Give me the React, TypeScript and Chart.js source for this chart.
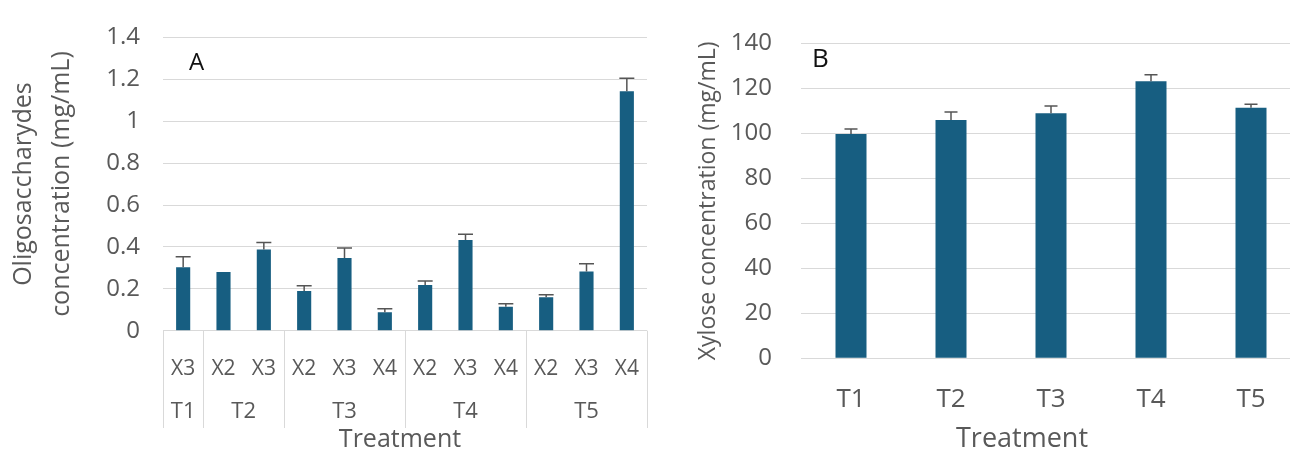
import React, { useEffect, useRef } from 'react';
import { Chart, registerables } from 'chart.js';

Chart.register(...registerables);

// ---- Data: panel A (oligosaccharides) ----
const subCategoriesA = ['X3', 'X2', 'X3', 'X2', 'X3', 'X4', 'X2', 'X3', 'X4', 'X2', 'X3', 'X4'];
const groupLabelsA = ['T1', 'T2', 'T3', 'T4', 'T5'];
const groupSizesA = [1, 2, 3, 3, 3];
const oligoValues = [0.303, 0.28, 0.387, 0.19, 0.347, 0.088, 0.218, 0.433, 0.114, 0.16, 0.283, 1.143];
const oligoErrors = [0.05, 0, 0.034, 0.024, 0.048, 0.017, 0.019, 0.027, 0.015, 0.012, 0.037, 0.062];
const yTicksA = [0, 0.2, 0.4, 0.6, 0.8, 1, 1.2, 1.4];

// ---- Data: panel B (xylose) ----
const categoriesB = ['T1', 'T2', 'T3', 'T4', 'T5'];
const xyloseValues = [99.7, 106, 109, 123.2, 111.4];
const xyloseErrors = [2.2, 3.5, 3.2, 2.9, 1.5];
const yTicksB = [0, 20, 40, 60, 80, 100, 120, 140];

const BAR = '#175E81';
const TEXT = '#595959';
const GRID = '#d9d9d9';
const ERR = '#555555';
const FONT = "'Open Sans', 'Liberation Sans', sans-serif";

Chart.defaults.font.family = FONT;

function errorBarPlugin(errors: number[], capWidth: number) {
  return {
    id: 'errorBars',
    afterDatasetsDraw(chart: any) {
      const meta = chart.getDatasetMeta(0);
      const yScale = chart.scales.y;
      const data = chart.data.datasets[0].data as number[];
      const ctx = chart.ctx;
      ctx.save();
      ctx.strokeStyle = ERR;
      ctx.lineWidth = 1.5;
      meta.data.forEach((bar: any, i: number) => {
        const e = errors[i];
        if (!e) return;
        const top = yScale.getPixelForValue(data[i] + e);
        const x = bar.x;
        ctx.beginPath();
        ctx.moveTo(x, bar.y);
        ctx.lineTo(x, top);
        ctx.moveTo(x - capWidth / 2, top);
        ctx.lineTo(x + capWidth / 2, top);
        ctx.stroke();
      });
      ctx.restore();
    },
  };
}

function textPlugin(id: string, items: { text: string; x: number; y: number; size: number; color: string }[]) {
  return {
    id,
    afterDraw(chart: any) {
      const ctx = chart.ctx;
      ctx.save();
      ctx.textBaseline = 'alphabetic';
      items.forEach((it) => {
        ctx.font = `${it.size}px ${FONT}`;
        ctx.fillStyle = it.color;
        ctx.textAlign = it.text.length > 1 ? 'center' : 'left';
        ctx.fillText(it.text, it.x, it.y);
      });
      ctx.restore();
    },
  };
}

const groupPlugin = {
  id: 'groupLabels',
  afterDraw(chart: any) {
    const ctx = chart.ctx;
    const x = chart.scales.x;
    const area = chart.chartArea;
    const total = subCategoriesA.length;
    ctx.save();
    ctx.font = `22px ${FONT}`;
    ctx.fillStyle = TEXT;
    ctx.textAlign = 'center';
    ctx.textBaseline = 'alphabetic';
    const bounds: number[] = [area.left];
    let start = 0;
    groupSizesA.forEach((n, g) => {
      const first = x.getPixelForTick(start);
      const last = x.getPixelForTick(start + n - 1);
      ctx.fillText(groupLabelsA[g], (first + last) / 2, 418);
      start += n;
      if (start < total) {
        bounds.push((x.getPixelForTick(start - 1) + x.getPixelForTick(start)) / 2);
      } else {
        bounds.push(area.right);
      }
    });
    ctx.strokeStyle = GRID;
    ctx.lineWidth = 1;
    ctx.beginPath();
    bounds.forEach((b) => {
      const px = Math.round(b) + 0.5;
      ctx.moveTo(px, area.bottom);
      ctx.lineTo(px, 428);
    });
    ctx.stroke();
    ctx.restore();
  },
};

export default function App() {
  const refA = useRef<HTMLCanvasElement | null>(null);
  const refB = useRef<HTMLCanvasElement | null>(null);

  useEffect(() => {
    const chartA = new Chart(refA.current as HTMLCanvasElement, {
      type: 'bar',
      data: {
        labels: subCategoriesA,
        datasets: [
          {
            data: oligoValues,
            backgroundColor: BAR,
            barPercentage: 0.35,
            categoryPercentage: 1,
          },
        ],
      },
      options: {
        responsive: false,
        animation: false,
        devicePixelRatio: 1,
        layout: { padding: { top: 27, right: 13, left: 0, bottom: 0 } },
        plugins: { legend: { display: false }, tooltip: { enabled: false } },
        scales: {
          x: {
            grid: { display: false },
            border: { display: false },
            ticks: { font: { size: 21 }, color: TEXT, padding: 18, autoSkip: false, maxRotation: 0 },
            afterFit: (s: any) => {
              s.height = 119.3;
            },
          },
          y: {
            min: yTicksA[0],
            max: yTicksA[yTicksA.length - 1],
            afterBuildTicks: (s: any) => {
              s.ticks = yTicksA.map((v) => ({ value: v }));
            },
            ticks: {
              font: { size: 24 },
              color: TEXT,
              padding: 23,
              callback: (v: any) => String(v),
            },
            grid: { color: GRID, drawTicks: false, lineWidth: 1 },
            border: { display: false },
            title: {
              display: true,
              text: ['Oligosaccharydes', 'concentration (mg/mL)'],
              font: { size: 25, lineHeight: 38 / 25 },
              color: TEXT,
              padding: { top: 5, bottom: 0 },
            },
            afterFit: (s: any) => {
              s.width = 163;
            },
          },
        },
      } as any,
      plugins: [
        errorBarPlugin(oligoErrors, 15),
        groupPlugin,
        textPlugin('labelsA', [
          { text: 'A', x: 189, y: 70, size: 24, color: '#111111' },
          { text: 'Treatment', x: 400, y: 447, size: 25, color: TEXT },
        ]),
      ],
    });

    const chartB = new Chart(refB.current as HTMLCanvasElement, {
      type: 'bar',
      data: {
        labels: categoriesB,
        datasets: [
          {
            data: xyloseValues,
            backgroundColor: BAR,
            barPercentage: 0.31,
            categoryPercentage: 1,
          },
        ],
      },
      options: {
        responsive: false,
        animation: false,
        devicePixelRatio: 1,
        layout: { padding: { top: 40, right: 19, left: 0, bottom: 0 } },
        plugins: { legend: { display: false }, tooltip: { enabled: false } },
        scales: {
          x: {
            grid: { display: false },
            border: { display: false },
            ticks: { font: { size: 26 }, color: TEXT, padding: 18, autoSkip: false, maxRotation: 0 },
            afterFit: (s: any) => {
              s.height = 91.7;
            },
          },
          y: {
            min: yTicksB[0],
            max: yTicksB[yTicksB.length - 1],
            afterBuildTicks: (s: any) => {
              s.ticks = yTicksB.map((v) => ({ value: v }));
            },
            ticks: {
              font: { size: 24 },
              color: TEXT,
              padding: 29,
              callback: (v: any) => String(v),
            },
            grid: { color: GRID, drawTicks: false, lineWidth: 1 },
            border: { display: false },
            title: {
              display: true,
              text: 'Xylose concentration (mg/mL)',
              font: { size: 23 },
              color: TEXT,
              padding: { top: 15, bottom: 0 },
            },
            afterFit: (s: any) => {
              s.width = 121;
            },
          },
        },
      } as any,
      plugins: [
        errorBarPlugin(xyloseErrors, 13),
        textPlugin('labelsB', [
          { text: 'B', x: 132, y: 67, size: 26, color: '#111111' },
          { text: 'Treatment', x: 342, y: 447, size: 27, color: TEXT },
        ]),
      ],
    });

    return () => {
      chartA.destroy();
      chartB.destroy();
    };
  }, []);

  return (
    <div
      style={{
        position: 'absolute',
        left: 0,
        top: 0,
        width: 1290,
        height: 450,
        overflow: 'hidden',
        background: '#ffffff',
      }}
    >
      <canvas ref={refA} width={660} height={450} style={{ position: 'absolute', left: 0, top: 0 }} />
      <canvas ref={refB} width={640} height={450} style={{ position: 'absolute', left: 680, top: 0 }} />
    </div>
  );
}
